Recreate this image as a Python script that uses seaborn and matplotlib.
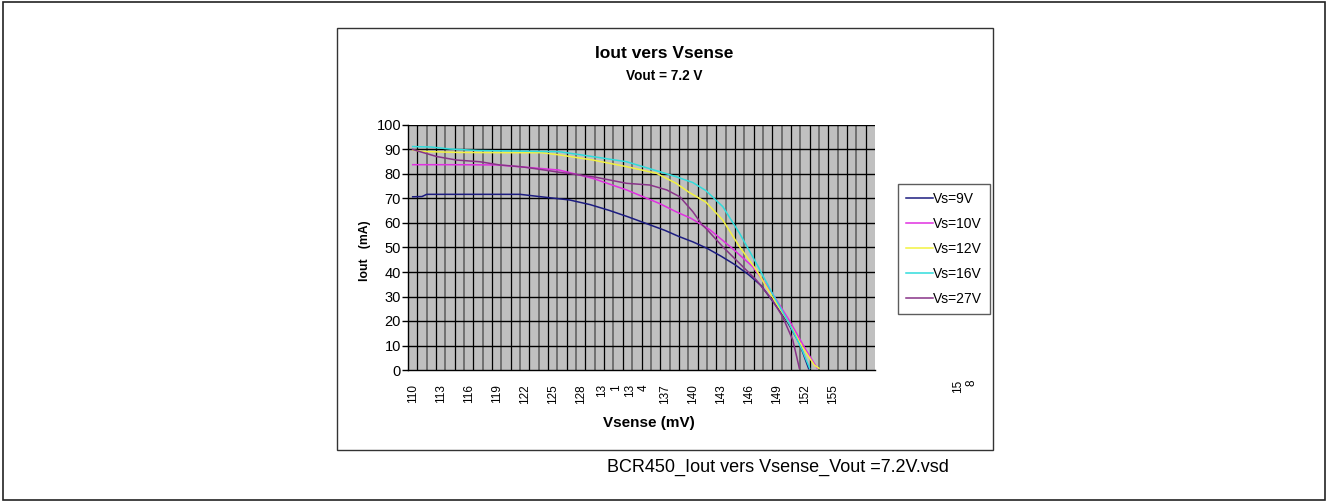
import matplotlib
matplotlib.use("Agg")
import matplotlib.pyplot as plt
from matplotlib.patches import Rectangle
import seaborn as sns
import pandas as pd

# Données (Vsense en mV, Iout en mA)
vsense_9v = [110, 111, 111.5, 115, 121.5, 124, 126.8, 129, 131, 133, 135, 137, 138.5,
             140, 141.5, 143, 144.5, 146, 147.3, 148.5, 150, 151.4, 152.4]
iout_9v = [70.7, 70.8, 71.7, 71.7, 71.7, 70.6, 69.4, 67.5, 65.2, 62.6, 59.8, 57.0, 54.5,
           52.3, 49.7, 46.5, 43.0, 38.8, 34.5, 28.3, 20.4, 11.0, 0.5]

vsense_10v = [110, 114, 119, 122, 125.7, 129.3, 132.9, 136.4, 138.2, 139.8, 141.8, 144.2,
              146.4, 148.5, 150.3, 152.1, 153.3]
iout_10v = [83.8, 83.8, 83.7, 82.8, 81.6, 78.2, 73.5, 68.0, 64.6, 61.9, 57.3, 49.7,
            42.2, 31.3, 20.4, 8.2, 0.8]

vsense_12v = [110, 111, 115, 120, 123.8, 125.7, 129.3, 132.9, 136.1, 138.2, 139.6, 141.4,
              143.2, 145, 146.8, 148.5, 150.3, 151.7, 153, 153.5]
iout_12v = [89.8, 89.2, 88.8, 88.7, 88.7, 87.8, 85.7, 83.0, 80.3, 76.2, 72.5, 68.5,
            61.2, 50.3, 40.8, 29.9, 19.1, 9.5, 2.0, 0.7]

vsense_16v = [110, 112, 114, 117, 122, 125.7, 129.3, 132.9, 136.4, 138.2, 140, 141.4,
              143.2, 145, 146.8, 148.5, 150.3, 151.7, 152.5]
iout_16v = [91.2, 91.0, 90.2, 89.6, 89.3, 89.1, 87.1, 85.0, 81.0, 78.9, 76.5, 73.2,
            66.7, 55.8, 43.5, 31.3, 19.1, 8.2, 0.7]

vsense_27v = [110, 112.6, 114.7, 117.2, 119.3, 121.5, 122.9, 125.7, 129.3, 132.9, 135.4,
              137.2, 138.6, 140, 141, 141.4, 143.2, 145, 146.8, 148.5, 149.6, 150.7, 151.4]
iout_27v = [90.0, 87.1, 85.7, 85.0, 83.7, 83.0, 82.3, 80.7, 78.9, 76.2, 75.5,
            73.5, 70.7, 64.6, 59.2, 57.8, 50.3, 43.5, 36.7, 28.6, 21.8, 12.2, 0.7]

series_labels = ["Vs=9V", "Vs=10V", "Vs=12V", "Vs=16V", "Vs=27V"]
series_colors = ["#1c1c80", "#e030e0", "#f2f240", "#30dcdc", "#883388"]

xtick_values = [110, 113, 116, 119, 122, 125, 128, 131, 134, 137, 140, 143, 146, 149, 152, 155]
xtick_labels = ["110", "113", "116", "119", "122", "125", "128", "13\n1", "13\n4",
                "137", "140", "143", "146", "149", "152", "155"]
ytick_values = [0, 10, 20, 30, 40, 50, 60, 70, 80, 90, 100]

frames = []
for label, xs, ys in zip(series_labels,
                         [vsense_9v, vsense_10v, vsense_12v, vsense_16v, vsense_27v],
                         [iout_9v, iout_10v, iout_12v, iout_16v, iout_27v]):
    frames.append(pd.DataFrame({"Vsense": xs, "Iout": ys, "serie": label}))
df = pd.concat(frames, ignore_index=True)

plt.rcParams['font.family'] = ['Liberation Sans', 'DejaVu Sans']

W, H = 1328, 501
fig = plt.figure(figsize=(W / 100, H / 100), dpi=100)

# cadres
fig.patches.append(Rectangle((3 / W, 1 / H), (W - 6) / W, (H - 3) / H, transform=fig.transFigure,
                             fill=False, edgecolor="#222222", linewidth=1.2))
fig.patches.append(Rectangle((337 / W, 1 - 450 / H), (993 - 337) / W, (450 - 28) / H,
                             transform=fig.transFigure, fill=False, edgecolor="#333333",
                             linewidth=1.0))

ax = fig.add_axes([408 / W, 1 - 370 / H, (875 - 408) / W, (370 - 125) / H])
ax.set_facecolor("#c0c0c0")

# grille verticale (une ligne par catégorie, alternance noir / gris)
for k in range(1, 50):
    ax.axvline(109.5 + k, color="black" if k % 2 else "#6a6a6a",
               linewidth=0.9 if k % 2 else 1.3, zorder=1)
for v in ytick_values[1:]:
    ax.axhline(v, color="black", linewidth=1.0, zorder=1)

sns.lineplot(data=df, x="Vsense", y="Iout", hue="serie", hue_order=series_labels,
             palette=dict(zip(series_labels, series_colors)), estimator=None, sort=False,
             linewidth=1.1, ax=ax, zorder=3)

handles, labels = ax.get_legend_handles_labels()
ax.get_legend().remove()

ax.set_xlim(109.5, 159.5)
ax.set_ylim(0, 100)
ax.set_xticks(xtick_values)
ax.set_xticklabels(xtick_labels, rotation=90, fontsize=8.5, va="top", ha="center",
                   multialignment="right")
ax.set_yticks(ytick_values)
ax.set_yticklabels([str(v) for v in ytick_values], fontsize=10.5)
ax.tick_params(axis="x", length=0, pad=10)
ax.tick_params(axis="y", length=4, width=1, pad=1, color="black")
ax.set_xlabel("")
ax.set_ylabel("")
for side in ["top", "right"]:
    ax.spines[side].set_visible(False)
for side in ["left", "bottom"]:
    ax.spines[side].set_color("black")
    ax.spines[side].set_linewidth(1.0)

# étiquette 158 déportée comme sur l'original
fig.text(965 / W, 1 - 380 / H, "15\n8", rotation=90, fontsize=8.5, ha="center", va="top",
         multialignment="right")

fig.text(664 / W, 1 - 53 / H, "Iout vers Vsense", ha="center", va="center",
         fontsize=12.5, fontweight="bold")
fig.text(664 / W, 1 - 76 / H, "Vout = 7.2 V", ha="center", va="center",
         fontsize=9.8, fontweight="bold")
fig.text(365 / W, 1 - 251 / H, "Iout   (mA)", ha="center", va="center", rotation=90,
         fontsize=8.8, fontweight="bold")
fig.text(649 / W, 1 - 423 / H, "Vsense (mV)", ha="center", va="center",
         fontsize=11, fontweight="bold")
fig.text(778 / W, 1 - 467 / H, "BCR450_Iout vers Vsense_Vout =7.2V.vsd", ha="center",
         va="center", fontsize=13)

leg = fig.legend(handles, labels, loc="upper left", bbox_to_anchor=(898 / W, 1 - 184 / H),
                 fontsize=10, frameon=True, fancybox=False, edgecolor="#333333",
                 handlelength=1.9, handletextpad=0.0, labelspacing=0.78, borderpad=0.6,
                 borderaxespad=0)
leg.get_frame().set_linewidth(1.0)

fig.savefig("out.png", dpi=100)
plt.close(fig)
